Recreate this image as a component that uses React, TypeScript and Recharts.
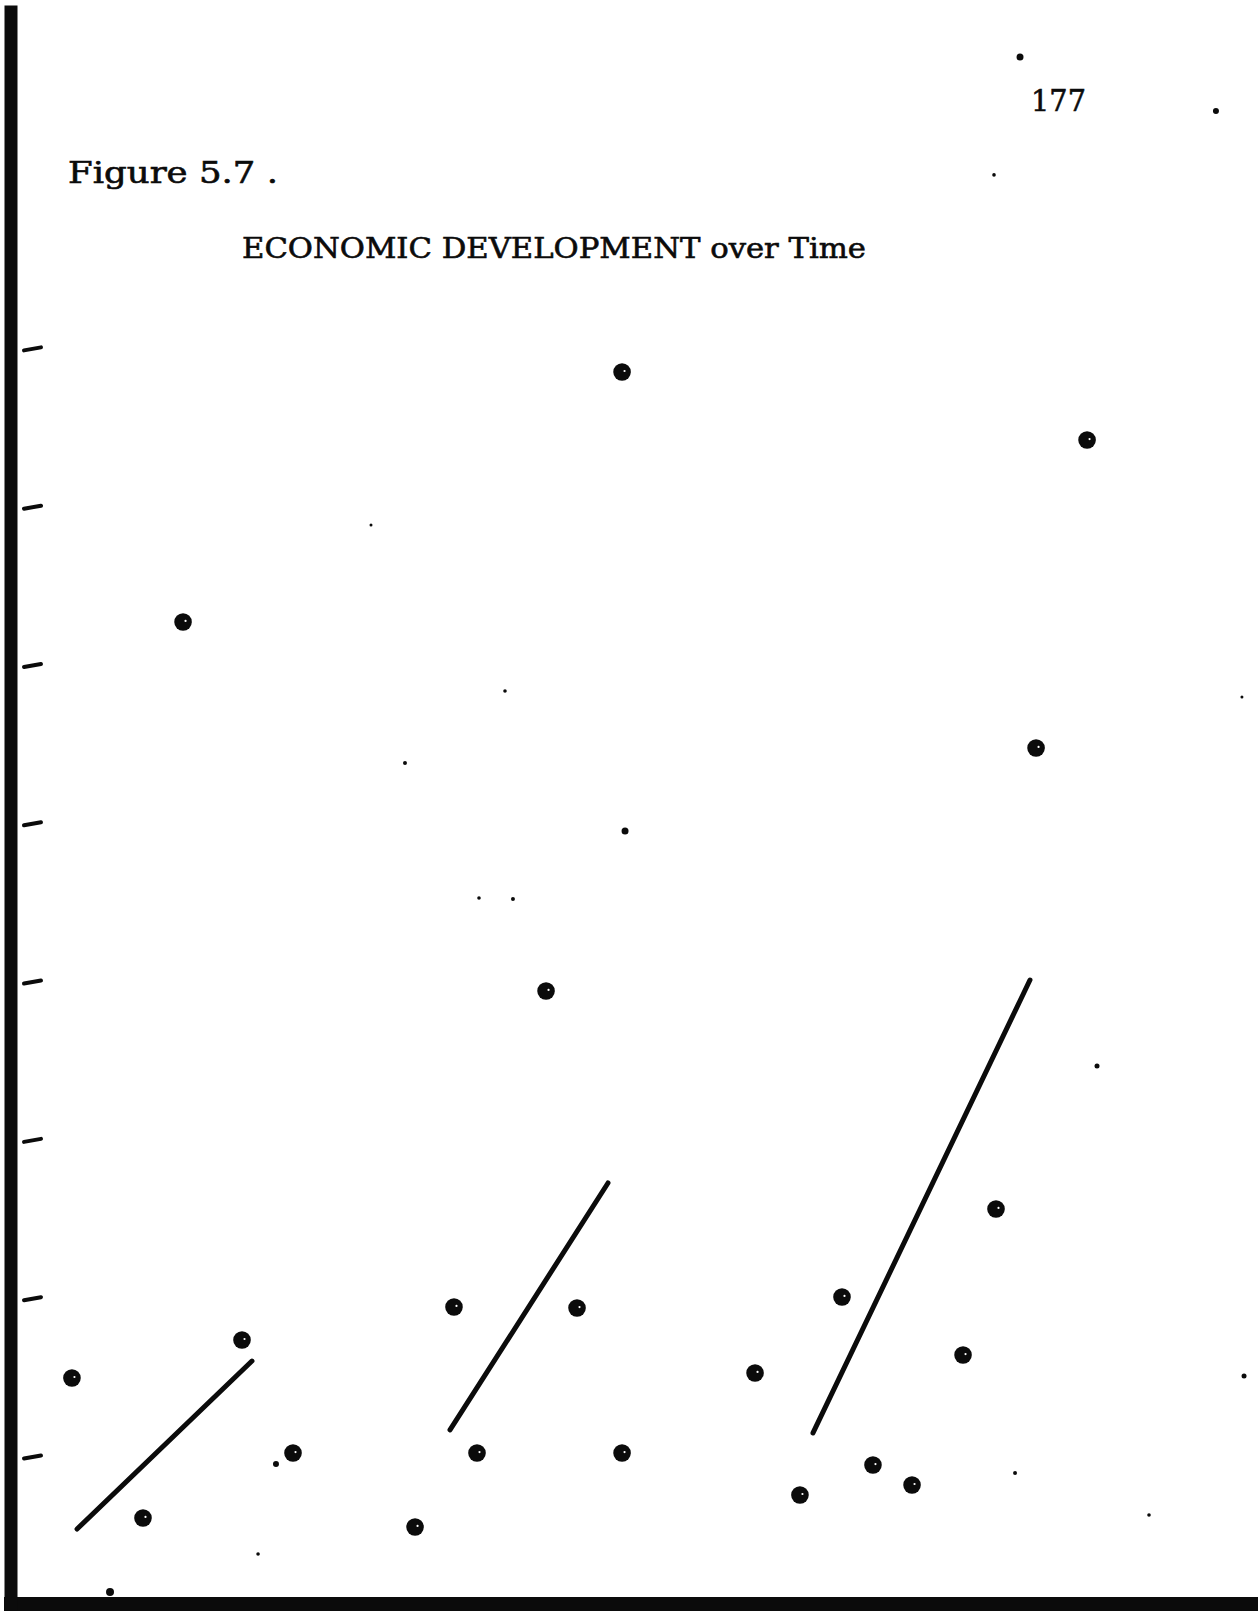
import React from 'react';
import { ScatterChart, Scatter, XAxis, YAxis } from 'recharts';

// Period 1 (early) observations
const period1X = [4.9, 10.61, 18.57, 22.67, 13.83];
const period1Y = [1.499, 0.615, 1.739, 1.025, 6.275];
// Period 2 (middle) observations
const period2X = [32.48, 35.61, 37.46, 43.01, 45.5, 49.12, 49.12];
const period2Y = [0.558, 1.948, 1.025, 3.944, 1.941, 1.025, 7.854];
// Period 3 (late) observations
const period3X = [59.81, 63.42, 66.8, 69.29, 72.43, 76.53, 79.18, 82.4, 86.5];
const period3Y = [1.531, 0.76, 2.011, 0.949, 0.823, 1.644, 2.567, 5.479, 7.424];

// Fitted regression segments (start, end)
const fit1X = [5.31, 19.37];
const fit1Y = [0.545, 1.606];
const fit2X = [35.29, 47.99];
const fit2Y = [1.171, 2.731];
const fit3X = [64.47, 81.91];
const fit3Y = [1.152, 4.013];

// Small marks on the scanned page
const speckX = [21.3, 49.36, 81.11, 96.86, 87.3, 80.71, 99.12, 31.67, 40.35, 37.62, 39.71, 28.94, 98.95, 91.48, 19.86, 79.02, 7.96];
const speckY = [0.956, 4.955, 9.844, 9.503, 3.47, 0.899, 1.512, 5.384, 4.525, 4.531, 5.839, 6.888, 5.801, 0.634, 0.387, 9.099, 0.147];
const speckR = [3, 3.5, 3.5, 3, 2.5, 2, 2.5, 2, 2, 1.8, 1.8, 1.5, 1.5, 1.8, 1.8, 1.8, 4];

const yTicks = [1, 2, 3, 4, 5, 6, 7, 8];

const titleText = 'Figure 5.7 .';
const subtitleText = 'ECONOMIC DEVELOPMENT over Time';
const pageNumber = '177';

const zip = (xs: number[], ys: number[]) => xs.map((x, i) => ({ x, y: ys[i] }));

const p1 = zip(period1X, period1Y);
const p2 = zip(period2X, period2Y);
const p3 = zip(period3X, period3Y);
const f1 = zip(fit1X, fit1Y);
const f2 = zip(fit2X, fit2Y);
const f3 = zip(fit3X, fit3Y);
const specks = speckX.map((x, i) => ({ x, y: speckY[i], r: speckR[i] }));

const INK = '#0b0b0b';

const Blob = (props: any) => {
  const { cx, cy } = props;
  if (cx == null || cy == null) return <g />;
  return (
    <g>
      <circle cx={cx} cy={cy} r={8.8} fill={INK} />
      <circle cx={cx + 2.5} cy={cy - 1} r={1.1} fill="#fff" />
    </g>
  );
};

const Speck = (props: any) => {
  const { cx, cy, payload } = props;
  if (cx == null || cy == null) return <g />;
  return <circle cx={cx} cy={cy} r={payload.r} fill={INK} />;
};

const NoShape = () => <g />;

const TickMark = (props: any) => {
  const { y } = props;
  return <line x1={24} y1={y + 1.5} x2={41} y2={y - 1.5} stroke={INK} strokeWidth={4} strokeLinecap="round" />;
};

export default function App() {
  return (
    <div style={{ position: 'absolute', left: 0, top: 0, width: 1258, height: 1615, background: '#fff' }}>
      <ScatterChart width={1258} height={1615} margin={{ top: 12, right: 3, bottom: 0, left: 0 }}>
        <XAxis
          type="number"
          dataKey="x"
          domain={[0, 100]}
          height={11}
          tick={false}
          tickLine={false}
          axisLine={{ stroke: INK, strokeWidth: 14, strokeLinecap: 'square' }}
        />
        <YAxis
          type="number"
          dataKey="y"
          domain={[0.0714, 10.128]}
          ticks={yTicks}
          width={11}
          tickSize={0}
          tickMargin={0}
          tickLine={false}
          tick={<TickMark />}
          axisLine={{ stroke: INK, strokeWidth: 13, strokeLinecap: 'square' }}
        />
        <Scatter data={f1} line={{ stroke: INK, strokeWidth: 5, strokeLinecap: 'round' }} shape={<NoShape />} isAnimationActive={false} />
        <Scatter data={f2} line={{ stroke: INK, strokeWidth: 5, strokeLinecap: 'round' }} shape={<NoShape />} isAnimationActive={false} />
        <Scatter data={f3} line={{ stroke: INK, strokeWidth: 5, strokeLinecap: 'round' }} shape={<NoShape />} isAnimationActive={false} />
        <Scatter data={p1} shape={<Blob />} isAnimationActive={false} />
        <Scatter data={p2} shape={<Blob />} isAnimationActive={false} />
        <Scatter data={p3} shape={<Blob />} isAnimationActive={false} />
        <Scatter data={specks} shape={<Speck />} isAnimationActive={false} />
      </ScatterChart>
      <svg width={1258} height={1615} style={{ position: 'absolute', left: 0, top: 0, pointerEvents: 'none' }}>
        <text x={68} y={183} fontFamily="DejaVu Serif" fontSize={29} fill={INK} stroke={INK} strokeWidth={0.6} textLength={210} lengthAdjust="spacingAndGlyphs">
          {titleText}
        </text>
        <text x={242} y={258} fontFamily="DejaVu Serif" fontSize={28} fill={INK} stroke={INK} strokeWidth={0.6} textLength={624} lengthAdjust="spacingAndGlyphs">
          {subtitleText}
        </text>
        <text x={1031} y={111} fontFamily="DejaVu Serif" fontSize={30} fill={INK} stroke={INK} strokeWidth={0.6} textLength={55} lengthAdjust="spacingAndGlyphs">
          {pageNumber}
        </text>
      </svg>
    </div>
  );
}
